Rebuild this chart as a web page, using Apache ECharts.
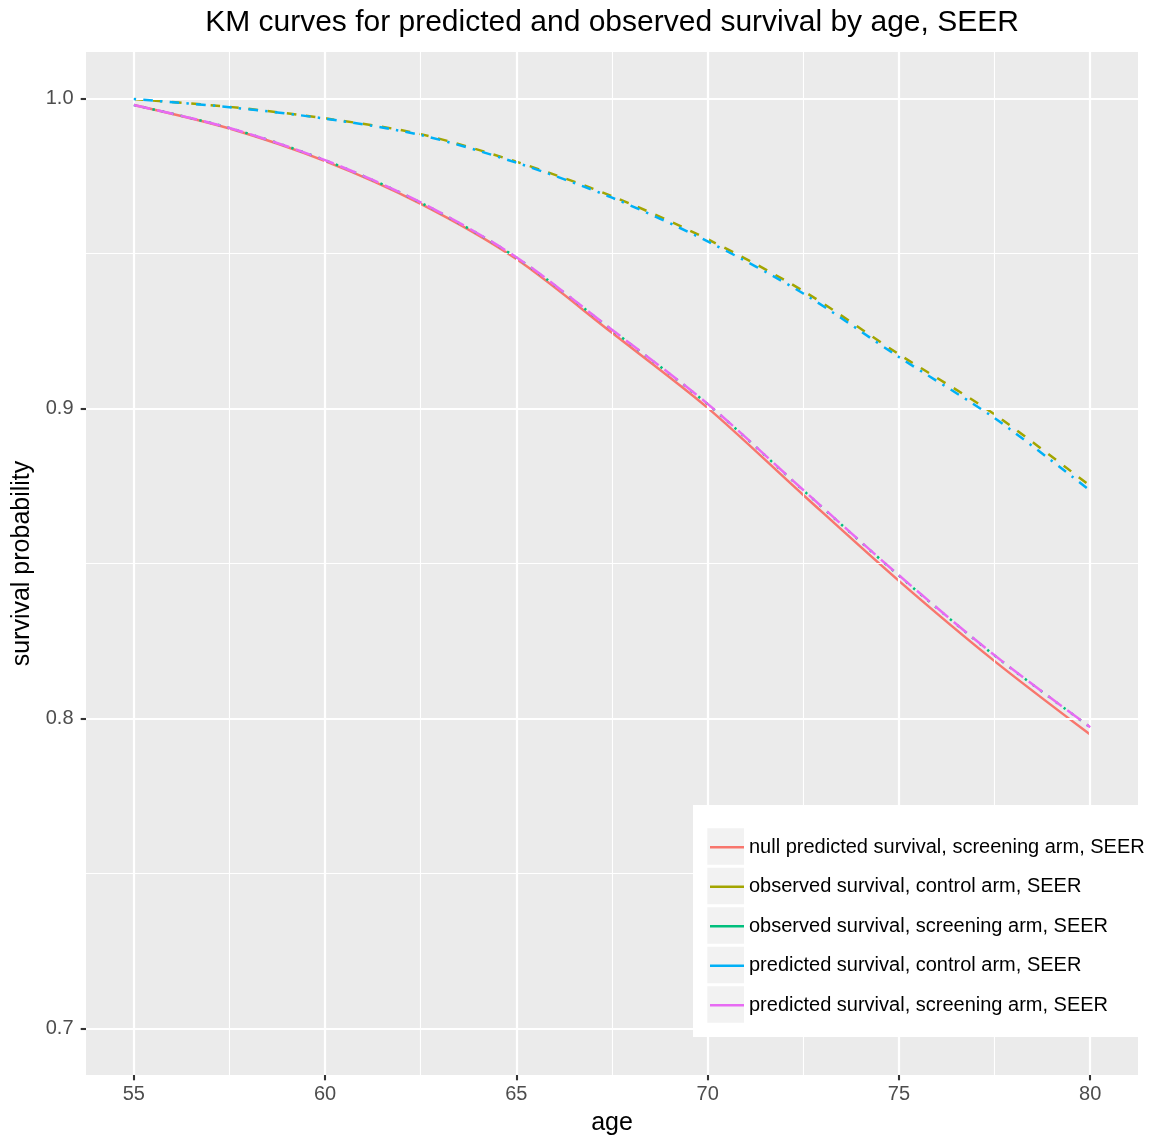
<!DOCTYPE html>
<html>
<head>
<meta charset="utf-8">
<script src="https://cdn.jsdelivr.net/npm/echarts@6/dist/echarts.min.js"></script>
<style>
html,body{margin:0;padding:0;background:#fff;}
#chart{width:1161px;height:1141px;}
</style>
</head>
<body>
<div id="chart"></div>
<script>
// ---- data ----
const ages = [55, 57.5, 60, 62.5, 65, 67.5, 70, 72.5, 75, 77.5, 80];
const nullPredScreen = [0.9979, 0.9903, 0.9798, 0.9660, 0.9482, 0.9244, 0.9002, 0.8721, 0.8444, 0.8185, 0.7948];
const obsControl     = [0.9998, 0.9973, 0.9936, 0.9885, 0.9796, 0.9685, 0.9546, 0.9379, 0.9175, 0.8981, 0.8750];
const obsScreen      = [0.9979, 0.9905, 0.9801, 0.9664, 0.9487, 0.9253, 0.9014, 0.8736, 0.8461, 0.8203, 0.7972];
const predControl    = [0.9998, 0.9972, 0.9935, 0.9882, 0.9793, 0.9680, 0.9539, 0.9371, 0.9166, 0.8969, 0.8735];
const predScreen     = [0.9979, 0.9905, 0.9801, 0.9665, 0.9488, 0.9254, 0.9015, 0.8737, 0.8462, 0.8204, 0.7972];

const seriesNames = [
  'null predicted survival, screening arm, SEER',
  'observed survival, control arm, SEER',
  'observed survival, screening arm, SEER',
  'predicted survival, control arm, SEER',
  'predicted survival, screening arm, SEER'
];
const xTicks = [55, 60, 65, 70, 75, 80];
const xMinor = [57.5, 62.5, 67.5, 72.5, 77.5];
const yTicks = [0.7, 0.8, 0.9, 1.0];
const yMinor = [0.75, 0.85, 0.95];

// ---- styling ----
const colors = ['#F8766D', '#A3A500', '#00BF7D', '#00B0F6', '#E76BF3'];
const dashes = ['solid', [9.6, 9.6], [2.4, 7.2], [2.4, 7.2, 9.6, 7.2], [16.8, 7.2]];
const allData = [nullPredScreen, obsControl, obsScreen, predControl, predScreen];
const FONT = 'Liberation Sans, Arial, Helvetica, sans-serif';

const gridLines = [];
xTicks.forEach(v => gridLines.push({xAxis: v, lineStyle: {width: 2.2}}));
xMinor.forEach(v => gridLines.push({xAxis: v, lineStyle: {width: 1.1}}));
yTicks.forEach(v => gridLines.push({yAxis: v, lineStyle: {width: 2.2}}));
yMinor.forEach(v => gridLines.push({yAxis: v, lineStyle: {width: 1.1}}));

const series = [{
  name: '_grid', type: 'line', data: [], z: 1, silent: true,
  markLine: {
    silent: true, symbol: ['none', 'none'], label: {show: false},
    lineStyle: {color: '#FFFFFF', type: 'solid'}, animation: false,
    data: gridLines
  }
}];
allData.forEach((arr, i) => {
  series.push({
    name: seriesNames[i], type: 'line', z: 3 + i,
    data: ages.map((a, j) => [a, arr[j]]),
    showSymbol: false, symbol: 'none', smooth: 0.3,
    color: colors[i],
    lineStyle: {color: colors[i], width: 2.5, type: dashes[i], cap: 'butt'}
  });
});

const keyRects = [];
for (let i = 0; i < 5; i++) {
  keyRects.push({type: 'rect', z: 20, shape: {x: 707.3, y: 828.3 + i * 39.5, width: 36.7, height: 36.5}, style: {fill: '#F2F2F2'}});
}

const chart = echarts.init(document.getElementById('chart'), null, {renderer: 'canvas'});
chart.setOption({
  animation: false,
  backgroundColor: '#FFFFFF',
  title: {
    text: 'KM curves for predicted and observed survival by age, SEER',
    left: 607, textAlign: 'center', top: 3,
    textStyle: {fontFamily: FONT, fontSize: 30, fontWeight: 'normal', color: '#000'}
  },
  grid: {left: 86, right: 23, top: 52, bottom: 66, show: true, backgroundColor: '#EBEBEB', borderWidth: 0},
  xAxis: {
    type: 'value', min: 53.75, max: 81.25,
    name: 'age', nameLocation: 'middle', nameGap: 36,
    nameTextStyle: {fontFamily: FONT, fontSize: 25, color: '#000'},
    axisLine: {show: false},
    axisTick: {show: true, customValues: xTicks, length: 5.3, lineStyle: {color: '#333333', width: 2.1}},
    axisLabel: {customValues: xTicks, margin: 9, fontFamily: FONT, fontSize: 20, color: '#4D4D4D'},
    splitLine: {show: false}
  },
  yAxis: {
    type: 'value', min: 0.685, max: 1.015,
    name: 'survival probability', nameLocation: 'middle', nameGap: 51,
    nameTextStyle: {fontFamily: FONT, fontSize: 25, color: '#000'},
    axisLine: {show: false},
    axisTick: {show: true, customValues: yTicks, length: 5.3, lineStyle: {color: '#333333', width: 2.1}},
    axisLabel: {customValues: yTicks, margin: 12.5, fontFamily: FONT, fontSize: 20, color: '#4D4D4D',
      formatter: v => Number(v).toFixed(1)},
    splitLine: {show: false}
  },
  legend: {
    data: seriesNames, orient: 'vertical', left: 710, top: 829, padding: 0, z: 30,
    itemGap: 3, itemWidth: 34, itemHeight: 2.7, icon: 'rect',
    selectedMode: false,
    textStyle: {fontFamily: FONT, fontSize: 20, color: '#000', lineHeight: 36.5}
  },
  graphic: [
    {type: 'rect', z: 19, shape: {x: 693, y: 805, width: 468, height: 232}, style: {fill: '#FFFFFF'}}
  ].concat(keyRects),
  series: series
});
</script>
</body>
</html>
